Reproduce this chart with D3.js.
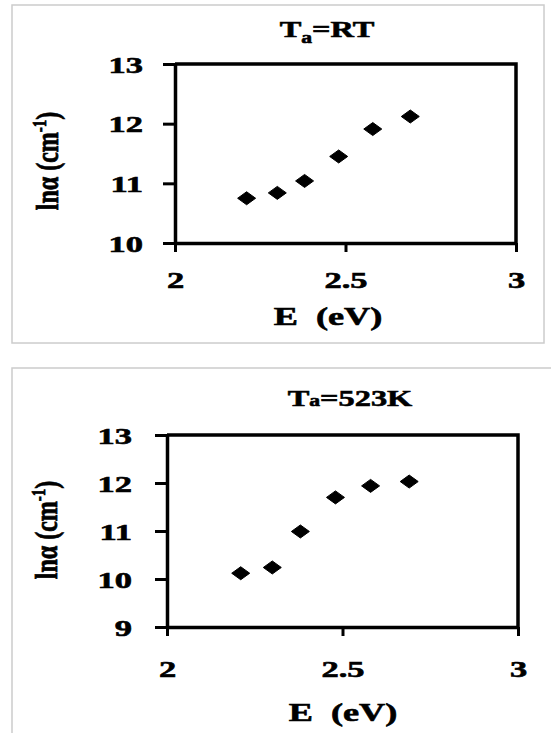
<!DOCTYPE html>
<html>
<head>
<meta charset="utf-8">
<script src="https://cdn.jsdelivr.net/npm/d3@7"></script>
<style>
  body { margin: 0; background: #fff; }
  text { font-family: "Liberation Serif", "Times New Roman", serif; font-weight: bold; fill: #000; stroke: #000; stroke-width: 0.6px; }
</style>
</head>
<body>
<script>
// photon energy (eV), same for both samples
var energy = [2.21, 2.30, 2.38, 2.48, 2.58, 2.69];
// ln(alpha) values
var lnAlphaRT = [10.75, 10.84, 11.04, 11.45, 11.91, 12.12];
var lnAlpha523 = [10.12, 10.24, 10.99, 11.70, 11.94, 12.03];
var xTicks = [2, 2.5, 3];
var yTicksRT = [10, 11, 12, 13];
var yTicks523 = [9, 10, 11, 12, 13];

var svg = d3.select("body").append("svg")
    .attr("width", 551)
    .attr("height", 733);

var SX = 1.5; // the source image is stretched sideways

function panel(opt) {
  // light grey frame round each panel
  svg.append("rect")
    .attr("x", opt.box[0]).attr("y", opt.box[1])
    .attr("width", opt.box[2]).attr("height", opt.box[3])
    .attr("fill", "none").attr("stroke", "#cccccc").attr("stroke-width", 1.5);

  var x = d3.scaleLinear().domain([2, 3]).range([opt.left, opt.right]);
  var y = d3.scaleLinear().domain(opt.yDomain).range([opt.bottom, opt.top]);

  var g = svg.append("g");

  // top and right edges of plot box
  g.append("path")
    .attr("d", "M" + opt.left + "," + opt.top + "H" + opt.right + "V" + opt.bottom)
    .attr("fill", "none").attr("stroke", "#000").attr("stroke-width", 3.5);

  var yAxis = g.append("g")
    .attr("transform", "translate(" + opt.left + ",0)")
    .call(d3.axisLeft(y).tickValues(opt.yTicks).tickSize(opt.tick).tickSizeOuter(0).tickFormat(d3.format("d")));
  yAxis.selectAll("text")
    .attr("x", 0).attr("dy", "0.36em")
    .attr("text-anchor", "end")
    .attr("transform", "translate(" + (-opt.yGap) + ",0) scale(" + SX + ",1)")
    .style("font-size", "23px");

  var xAxis = g.append("g")
    .attr("transform", "translate(0," + opt.bottom + ")")
    .call(d3.axisBottom(x).tickValues(xTicks).tickSize(9).tickSizeOuter(0).tickFormat(function(d) { return d; }));
  xAxis.selectAll("text")
    .attr("y", 0).attr("dy", 0)
    .attr("text-anchor", "middle")
    .attr("transform", "translate(0," + opt.xGap + ") scale(" + SX + ",1)")
    .style("font-size", "23px");

  g.selectAll(".domain").attr("stroke-width", 3.5);
  g.selectAll(".tick line").attr("stroke-width", 3);

  // title with subscript a
  var t = svg.append("text")
    .attr("text-anchor", "middle")
    .attr("transform", "translate(" + opt.title[0] + "," + opt.title[1] + ") scale(1.35,1)")
    .style("font-size", "24px");
  t.append("tspan").text("T");
  t.append("tspan").text("a").style("font-size", "16px").attr("dy", opt.subDy);
  t.append("tspan").text(opt.titleText).attr("dy", -opt.subDy);

  // x axis title
  svg.append("text")
    .attr("text-anchor", "middle")
    .attr("xml:space", "preserve")
    .style("white-space", "pre")
    .attr("transform", "translate(" + opt.xLab[0] + "," + opt.xLab[1] + ") scale(1.45,1)")
    .style("font-size", "25px")
    .text("E  (eV)");

  // y axis title
  var yl = svg.append("text")
    .attr("text-anchor", "middle")
    .attr("transform", "translate(" + opt.yLab[0] + "," + opt.yLab[1] + ") rotate(-90) scale(1,1.3)")
    .style("font-size", "24px");
  yl.append("tspan").text("ln\u03b1 (cm");
  yl.append("tspan").text("-1").style("font-size", "15px").attr("dy", -9);
  yl.append("tspan").text(")").attr("dy", 9);

  // diamond markers
  g.selectAll(".pt")
    .data(opt.values)
    .enter().append("path")
    .attr("class", "pt")
    .attr("d", "M-9,0L0,-6.5L9,0L0,6.5Z")
    .attr("transform", function(d, i) { return "translate(" + x(energy[i]) + "," + y(d) + ")"; })
    .attr("fill", "#000")
    .attr("stroke", "#000").attr("stroke-width", 1).attr("stroke-linejoin", "round");
}

panel({
  box: [12, 5, 532, 338],
  left: 175, right: 516, top: 64, bottom: 243,
  yDomain: [10, 13], yTicks: yTicksRT, tick: 12,
  yGap: 32, xGap: 45,
  title: [327, 37], titleText: "=RT", subDy: 6,
  xLab: [328, 325], yLab: [58, 161],
  values: lnAlphaRT
});

panel({
  box: [12, 368, 545, 380],
  left: 167, right: 518, top: 435, bottom: 627,
  yDomain: [9, 13], yTicks: yTicks523, tick: 12,
  yGap: 35, xGap: 50,
  title: [350, 406], titleText: "=523K", subDy: 0,
  xLab: [343, 721], yLab: [57, 530],
  values: lnAlpha523
});
</script>
</body>
</html>
